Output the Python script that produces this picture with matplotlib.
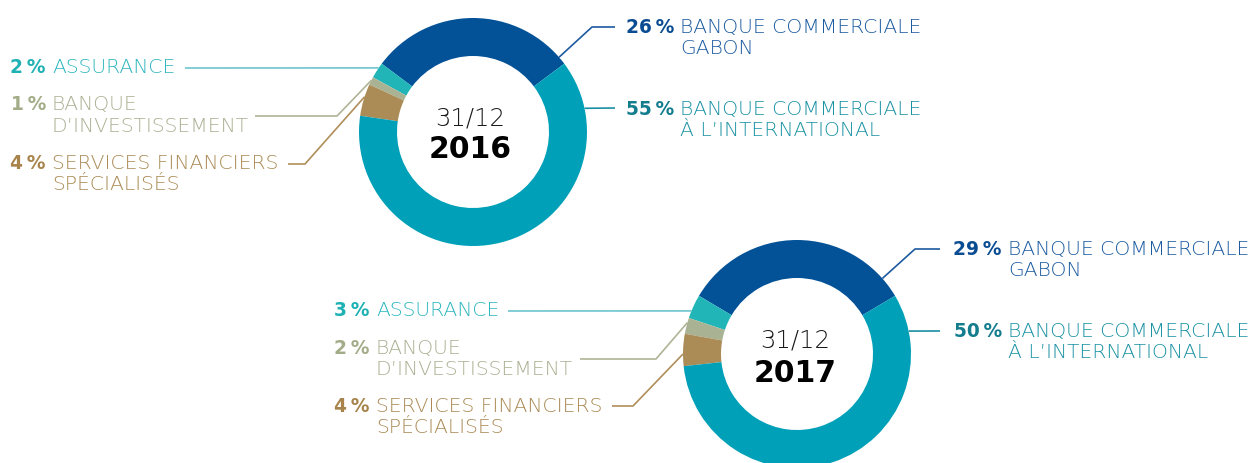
import matplotlib
matplotlib.use('Agg')
import matplotlib.pyplot as plt
import numpy as np

# répartition par métier (%), ordre anti-horaire à partir du segment Gabon
categories = ['BANQUE COMMERCIALE\nGABON', 'ASSURANCE', 'BANQUE\nD\u2019INVESTISSEMENT',
              'SERVICES FINANCIERS\nSPÉCIALISÉS', 'BANQUE COMMERCIALE\nÀ L\u2019INTERNATIONAL']
values_2016 = [26, 2, 1, 4, 55]
values_2017 = [29, 3, 2, 4, 50]
years = ['2016', '2017']

wedge_colors = ['#035297', '#22b5b7', '#a9b394', '#ab8b56', '#00a0b8']
pct_colors = ['#0a4c92', '#1fb1b4', '#a3ac88', '#a8844c', '#137c8d']
text_colors = ['#1d5ca0', '#2fb7bf', '#aab193', '#ab8a55', '#1c93a4']
line_colors = ['#1d5aa0', '#6cc5cf', '#b0b496', '#b08e5a', '#1a8fa3']

W, H = 1259, 464
R_OUT, RING = 114, 38

# layout (pixels, y from top)
charts = [
    dict(vals=values_2016, year=years[0], c=(473, 133),
         title_x=470, title_y=(126, 158),
         # (label_x, baseline) per category
         text=[(680, 33), (52, 73), (52, 110), (52, 169), (680, 115)],
         # (start_x, y, elbow_x or None, end angle)
         lead=[(615, 28, 592, 41), (185, 69, None, 145.8), (255, 117, 337, 153),
               (288, 165, 305, 162), (615, 109, None, 12)]),
    dict(vals=values_2017, year=years[1], c=(797, 355),
         title_x=795, title_y=(348, 382),
         text=[(1008, 255), (376, 316), (376, 354), (376, 412), (1008, 337)],
         lead=[(940, 250, 915, 41.5), (508, 312, None, 157.8), (580, 360, 656, 164),
               (612, 407, 633, 180), (940, 332, None, 11.6)]),
]

fig = plt.figure(figsize=(W / 100, H / 100), dpi=100)
ax = fig.add_axes([0, 0, 1, 1])

FS = 14.6
LINE_GAP = 21.5

for ch in charts:
    cx, cy = ch['c']
    vals = ch['vals']
    start = 90 - 180 * vals[0] / sum(vals)
    ax.pie(vals, colors=wedge_colors, startangle=start, counterclock=True,
           radius=R_OUT, center=(cx, H - cy),
           wedgeprops=dict(width=RING, edgecolor='none'))

    ax.text(ch['title_x'], H - ch['title_y'][0], '31/12', ha='center', va='baseline',
            fontsize=17.5, fontweight='light', color='#1a1a1a')
    ax.text(ch['title_x'], H - ch['title_y'][1], ch['year'], ha='center', va='baseline',
            fontsize=21.5, fontweight='bold', color='black')

    for i, cat in enumerate(categories):
        lx, base = ch['text'][i]
        ax.text(lx - 6, H - base, f'{vals[i]}\u2009%', ha='right', va='baseline',
                fontsize=FS - 1.2, fontweight='bold', color=pct_colors[i])
        for k, part in enumerate(cat.split('\n')):
            ax.text(lx, H - base - k * LINE_GAP, part, ha='left', va='baseline',
                    fontsize=FS, fontweight='light', color=text_colors[i])

        sx, sy, ex, ang = ch['lead'][i]
        end = (cx + R_OUT * np.cos(np.radians(ang)), cy - R_OUT * np.sin(np.radians(ang)))
        xs, ys = [sx], [sy]
        if ex is not None:
            xs.append(ex)
            ys.append(sy)
        xs.append(end[0])
        ys.append(end[1])
        ax.plot(xs, [H - y for y in ys], color=line_colors[i], lw=1.2,
                solid_capstyle='butt')

ax.set_xlim(0, W)
ax.set_ylim(0, H)
ax.set_aspect('equal')
ax.axis('off')

fig.savefig('out.png', dpi=100)
